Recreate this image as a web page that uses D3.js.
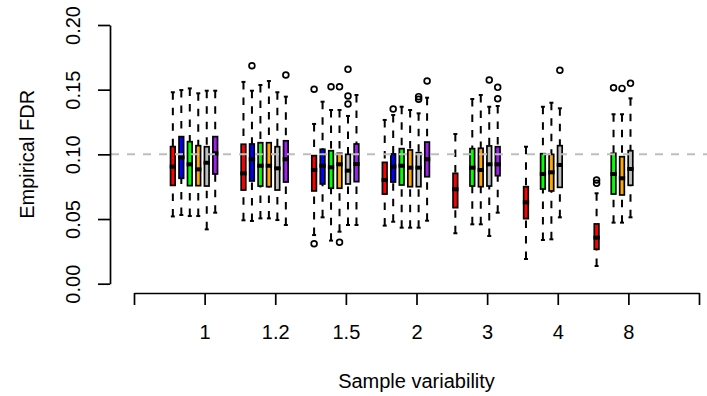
<!DOCTYPE html>
<html>
<head>
<meta charset="utf-8">
<script src="https://cdn.jsdelivr.net/npm/d3@7"></script>
<style>
body { margin: 0; background: #fff; }
svg text { font-family: "Liberation Sans", Arial, Helvetica, sans-serif; }
</style>
</head>
<body>
<div id="chart"></div>
<script>
var groups = ["1", "1.2", "1.5", "2", "3", "4", "8"];
var methods = ["red", "blue", "green", "orange", "gray", "purple"];
var fills = ["#FF0000", "#0000FF", "#00FF00", "#FFA500", "#BEBEBE", "#A020F0"];
var yTicks = [0, 0.05, 0.10, 0.15, 0.20];
var targetFDR = 0.1;

// [low whisker, Q1, median, Q3, high whisker] for each group, null = no box
var redStats = [
    [0.052, 0.076, 0.0905, 0.106, 0.148],
    [0.049, 0.0724, 0.0853, 0.1078, 0.156],
    [0.0376, 0.0717, 0.0879, 0.099, 0.1235],
    [0.0449, 0.0693, 0.0802, 0.0938, 0.1266],
    [0.039, 0.0588, 0.073, 0.0853, 0.1157],
    [0.0191, 0.0503, 0.0629, 0.075, 0.1059],
    [0.0137, 0.0266, 0.0356, 0.0462, 0.0699]
];
var blueStats = [
    [0.0531, 0.0815, 0.0977, 0.1137, 0.1497],
    [0.0485, 0.0794, 0.0962, 0.108, 0.1492],
    [0.0513, 0.0771, 0.0912, 0.1039, 0.1407],
    [0.0479, 0.0786, 0.0905, 0.1003, 0.1304],
    null, null, null
];
var greenStats = [
    [0.0523, 0.0758, 0.0923, 0.1098, 0.151],
    [0.0505, 0.0755, 0.0912, 0.109, 0.1536],
    [0.0333, 0.0738, 0.090, 0.1028, 0.1343],
    [0.0433, 0.0763, 0.0912, 0.1044, 0.1368],
    [0.0459, 0.0755, 0.0897, 0.1044, 0.1428],
    [0.0338, 0.0732, 0.0848, 0.1005, 0.1368],
    [0.0472, 0.0693, 0.0848, 0.1008, 0.131]
];
var orangeStats = [
    [0.0523, 0.0758, 0.0884, 0.1067, 0.1472],
    [0.0505, 0.075, 0.0912, 0.109, 0.1567],
    [0.0402, 0.0738, 0.0923, 0.1008, 0.1343],
    [0.0433, 0.075, 0.0897, 0.1034, 0.1343],
    [0.0459, 0.075, 0.0879, 0.1047, 0.1459],
    [0.0343, 0.0717, 0.0861, 0.1, 0.1399],
    [0.0472, 0.0686, 0.0815, 0.0982, 0.131]
];
var grayStats = [
    [0.042, 0.0755, 0.0935, 0.1059, 0.1492],
    [0.0492, 0.0724, 0.0892, 0.1059, 0.148],
    [0.0454, 0.0771, 0.0874, 0.100, 0.1297],
    [0.0433, 0.075, 0.0897, 0.1013, 0.1317],
    [0.0369, 0.0755, 0.0923, 0.1065, 0.1368],
    [0.0513, 0.0745, 0.0918, 0.1067, 0.1356],
    [0.0513, 0.0761, 0.0887, 0.1028, 0.1433]
];
var purpleStats = [
    [0.0549, 0.0848, 0.1008, 0.1137, 0.1492],
    [0.0454, 0.0786, 0.0962, 0.1105, 0.1446],
    [0.0454, 0.0789, 0.0925, 0.108, 0.1459],
    [0.0487, 0.0827, 0.0962, 0.1095, 0.1438],
    [0.0549, 0.0835, 0.0923, 0.1059, 0.1374],
    null, null
];

// outliers as [group index, value]
var redOut = [[2, 0.1503], [2, 0.0309], [6, 0.0802], [6, 0.0776]];
var blueOut = [[1, 0.1685], [3, 0.1351]];
var greenOut = [[2, 0.1523], [6, 0.1515]];
var orangeOut = [[2, 0.1523], [2, 0.032], [6, 0.151]];
var grayOut = [[2, 0.1657], [2, 0.1451], [2, 0.1389], [3, 0.1446], [3, 0.1426],
               [4, 0.1575], [5, 0.165], [6, 0.1549]];
var purpleOut = [[1, 0.1613], [3, 0.1567], [4, 0.1518], [4, 0.143]];

var allStats = [redStats, blueStats, greenStats, orangeStats, grayStats, purpleStats];
var allOut = [redOut, blueOut, greenOut, orangeOut, grayOut, purpleOut];

// box offsets from the group tick, in x units
var offsets = [-0.45, -0.33, -0.21, -0.09, 0.03, 0.15];
var boxW = 4.6, lw = 1.7;

var svg = d3.select("#chart").append("svg")
    .attr("width", 707)
    .attr("height", 396);

svg.append("rect").attr("width", 707).attr("height", 396).attr("fill", "#fff");

var x = d3.scaleLinear().domain([0, 8]).range([134, 699]);
var y = d3.scaleLinear().domain([0, 0.2]).range([283.7, 25]);

var boxes = [];
allStats.forEach(function(stats, m) {
    stats.forEach(function(s, g) {
        if (s) boxes.push({m: m, g: g, s: s, cx: x(g + 1 + offsets[m])});
    });
});

var outs = [];
allOut.forEach(function(list, m) {
    list.forEach(function(o) {
        outs.push({cx: x(o[0] + 1 + offsets[m]), v: o[1]});
    });
});

var bx = svg.append("g").selectAll("g").data(boxes).enter().append("g");

// whiskers, drawn from the staple toward the box
bx.append("line")
  .attr("x1", function(d){ return d.cx; }).attr("x2", function(d){ return d.cx; })
  .attr("y1", function(d){ return y(d.s[4]); }).attr("y2", function(d){ return y(d.s[3]); })
  .attr("stroke", "#000").attr("stroke-width", 2).attr("stroke-dasharray", "7.5,8");
bx.append("line")
  .attr("x1", function(d){ return d.cx; }).attr("x2", function(d){ return d.cx; })
  .attr("y1", function(d){ return y(d.s[0]); }).attr("y2", function(d){ return y(d.s[1]); })
  .attr("stroke", "#000").attr("stroke-width", 2).attr("stroke-dasharray", "7.5,8");

// staples
[0, 4].forEach(function(k) {
    bx.append("line")
      .attr("x1", function(d){ return d.cx - 2; }).attr("x2", function(d){ return d.cx + 2; })
      .attr("y1", function(d){ return y(d.s[k]); }).attr("y2", function(d){ return y(d.s[k]); })
      .attr("stroke", "#000").attr("stroke-width", 2);
});

bx.append("rect")
  .attr("x", function(d){ return d.cx - boxW / 2; })
  .attr("width", boxW)
  .attr("y", function(d){ return y(d.s[3]); })
  .attr("height", function(d){ return y(d.s[1]) - y(d.s[3]); })
  .attr("fill", function(d){ return fills[d.m]; })
  .attr("stroke", "#000").attr("stroke-width", lw);

bx.append("line")
  .attr("x1", function(d){ return d.cx - boxW / 2 - lw / 2; })
  .attr("x2", function(d){ return d.cx + boxW / 2 + lw / 2; })
  .attr("y1", function(d){ return y(d.s[2]); }).attr("y2", function(d){ return y(d.s[2]); })
  .attr("stroke", "#000").attr("stroke-width", 4);

svg.append("g").selectAll("circle").data(outs).enter().append("circle")
   .attr("cx", function(d){ return d.cx; })
   .attr("cy", function(d){ return y(d.v); })
   .attr("r", 2.9)
   .attr("fill", "none").attr("stroke", "#000").attr("stroke-width", lw);

// reference line at the nominal FDR
svg.append("line")
   .attr("x1", 111).attr("x2", 707)
   .attr("y1", y(targetFDR)).attr("y2", y(targetFDR))
   .attr("stroke", "#BEBEBE").attr("stroke-width", 2).attr("stroke-dasharray", "8,8");

// axes
var yAxis = svg.append("g")
    .attr("transform", "translate(110,0)")
    .call(d3.axisLeft(y).tickValues(yTicks).tickSize(12).tickSizeOuter(0)
          .tickFormat(d3.format(".2f")));
var xAxis = svg.append("g")
    .attr("transform", "translate(0,293)")
    .call(d3.axisBottom(x).tickValues(d3.range(0, 9)).tickSize(12).tickSizeOuter(0)
          .tickFormat(function(d){ return d >= 1 && d <= 7 ? groups[d - 1] : ""; }));

[xAxis, yAxis].forEach(function(a) {
    a.attr("font-size", 20).attr("font-family", null);
    a.selectAll("path, line").attr("stroke", "#000").attr("stroke-width", lw);
    a.selectAll("text").attr("fill", "#000");
});

yAxis.selectAll("text")
    .attr("transform", "rotate(-90)")
    .attr("x", 0).attr("y", -30).attr("dy", 0)
    .attr("text-anchor", "middle");
xAxis.selectAll("text").attr("y", 46).attr("dy", 0);

svg.append("text")
   .attr("x", (134 + 699) / 2).attr("y", 387.5)
   .attr("text-anchor", "middle").attr("font-size", 20)
   .text("Sample variability");

svg.append("text")
   .attr("transform", "translate(34," + y(0.1) + ") rotate(-90)")
   .attr("text-anchor", "middle").attr("font-size", 20)
   .text("Empirical FDR");
</script>
</body>
</html>
